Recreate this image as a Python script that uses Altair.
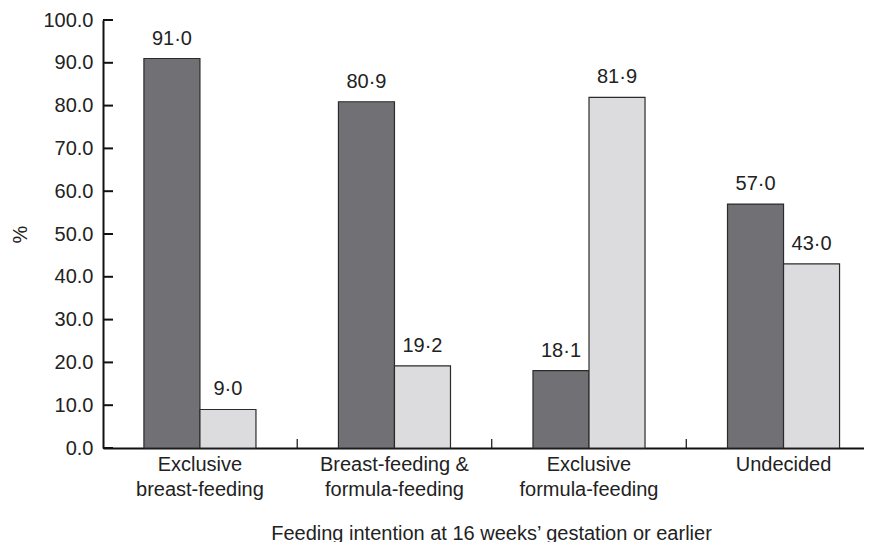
import altair as alt
import pandas as pd

# ---- data ----
categories = [
    "Exclusive\nbreast-feeding",
    "Breast-feeding &\nformula-feeding",
    "Exclusive\nformula-feeding",
    "Undecided",
]
series = ["Breast-feeding", "Formula-feeding"]
dark_values = [91.0, 80.9, 18.1, 57.0]
light_values = [9.0, 19.2, 81.9, 43.0]
y_tick_values = [0, 10, 20, 30, 40, 50, 60, 70, 80, 90, 100]
bar_colors = ["#717175", "#dcdcde"]
x_title = "Feeding intention at 16 weeks\u2019 gestation or earlier"
y_title = "%"

rows = []
for c, d, l in zip(categories, dark_values, light_values):
    rows.append({"cat": c, "series": series[0], "value": d})
    rows.append({"cat": c, "series": series[1], "value": l})
df = pd.DataFrame(rows)
ytick_df = pd.DataFrame({"value": y_tick_values})
xtick_df = pd.DataFrame({"cat": categories[:-1]})

W, H = 761, 428
FONT = "Liberation Sans"
FS = 20
P_IN, P_OUT, ALIGN = 0.424, 0.168, 0.626
STEP = W / (len(categories) - P_IN + 2 * P_OUT)
BANDWIDTH = (1 - P_IN) * STEP
HALF_GAP = P_IN * STEP / 2

xscale = alt.Scale(domain=categories, paddingInner=P_IN, paddingOuter=P_OUT, align=ALIGN)
yscale = alt.Scale(domain=[0, 100], nice=False, zero=True)
oscale = alt.Scale(domain=series, paddingInner=0, paddingOuter=0)

x_axis = alt.Axis(
    title=x_title,
    labelAngle=0,
    labelExpr="split(datum.label, '\\n')",
    labelFontSize=FS,
    labelColor="#222222",
    labelLineHeight=25,
    labelPadding=6,
    ticks=False,
    domainColor="#111111",
    domainWidth=2,
    titleFontSize=FS,
    titleFontWeight="normal",
    titleColor="#222222",
    titleX=388,
    titleY=91,
    titleAlign="center",
    titleBaseline="alphabetic",
)
y_axis = alt.Axis(
    title=y_title,
    values=y_tick_values,
    format=".1f",
    labelFontSize=FS,
    labelColor="#222222",
    labelPadding=10,
    ticks=False,
    grid=False,
    domainColor="#111111",
    domainWidth=2,
    titleFontSize=FS,
    titleFontWeight="normal",
    titleColor="#222222",
    titleX=-83,
    titleY=H / 2,
    titleAlign="center",
    titleBaseline="middle",
)

X = alt.X("cat:N", scale=xscale, axis=x_axis, sort=categories)
Y = alt.Y("value:Q", scale=yscale, axis=y_axis)

bars = alt.Chart(df).mark_bar(stroke="#2b2b2b", strokeWidth=1.2).encode(
    x=X,
    xOffset=alt.XOffset("series:N", scale=oscale, sort=series),
    y=Y,
    fill=alt.Fill("series:N", scale=alt.Scale(domain=series, range=bar_colors), legend=None),
)

labels = alt.Chart(df).transform_calculate(
    lab="replace(format(datum.value, '.1f'), '.', '\u00b7')"
).mark_text(baseline="alphabetic", dy=-14, fontSize=FS, color="#222222", font=FONT).encode(
    x=X,
    xOffset=alt.XOffset("series:N", scale=oscale, sort=series),
    y=Y,
    text="lab:N",
)

yticks = alt.Chart(ytick_df).mark_rule(color="#111111", strokeWidth=2).encode(
    y=Y,
    x=alt.value(0),
    x2=alt.value(10),
)

xticks = alt.Chart(xtick_df).mark_rule(color="#111111", strokeWidth=1.2).encode(
    x=X,
    xOffset=alt.value(BANDWIDTH + HALF_GAP),
    y=alt.value(H - 9),
    y2=alt.value(H),
)

chart = alt.layer(bars, labels, yticks, xticks).properties(
    width=W,
    height=H,
    autosize=alt.AutoSizeParams(type="none"),
    padding={"left": 95, "top": 12, "right": 0, "bottom": 94},
).configure(font=FONT).configure_view(stroke=None)

chart.save("out.html", embed_options={"renderer": "svg", "actions": False})
